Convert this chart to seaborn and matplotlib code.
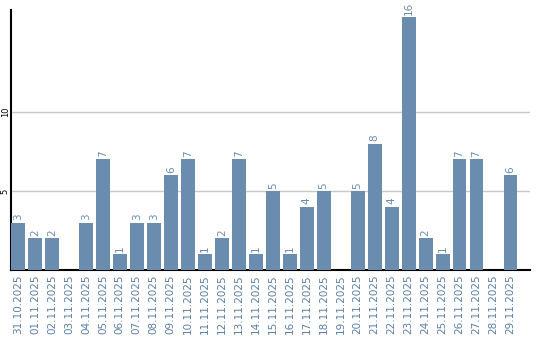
import matplotlib
matplotlib.use("Agg")
import matplotlib.pyplot as plt
import seaborn as sns
import pandas as pd

dates = ["31.10.2025", "01.11.2025", "02.11.2025", "03.11.2025", "04.11.2025",
         "05.11.2025", "06.11.2025", "07.11.2025", "08.11.2025", "09.11.2025",
         "10.11.2025", "11.11.2025", "12.11.2025", "13.11.2025", "14.11.2025",
         "15.11.2025", "16.11.2025", "17.11.2025", "18.11.2025", "19.11.2025",
         "20.11.2025", "21.11.2025", "22.11.2025", "23.11.2025", "24.11.2025",
         "25.11.2025", "26.11.2025", "27.11.2025", "28.11.2025", "29.11.2025"]
values = [3, 2, 2, 0, 3, 7, 1, 3, 3, 6, 7, 1, 2, 7, 1, 5, 1, 4, 5, 0,
          5, 8, 4, 16, 2, 1, 7, 7, 0, 6]
yticks = [5, 10]

sns.set_style("white")
plt.rcParams['font.family'] = ['DejaVu Sans']

df = pd.DataFrame({"date": dates, "value": values})

fig = plt.figure(figsize=(5.4, 3.4), dpi=100)
ax = fig.add_axes([11/540, 70/340, 519/540, 260/340])

bar_color = "#6a8caf"
text_color = "#6a8caf"
sns.barplot(data=df, x="date", y="value", color=bar_color, width=0.82,
            saturation=1, ax=ax, zorder=3, linewidth=0)

for i, v in enumerate(values):
    if v > 0:
        ax.text(i, v + 0.15, str(v), rotation=90, ha="center", va="bottom",
                fontsize=7.5, color=text_color)

ax.set_xlim(-0.41, 30.15)
ax.set_ylim(0, 16.45)
ax.set_yticks(yticks)
ax.set_yticklabels([str(t) for t in yticks], rotation=90, fontsize=6,
                   color="black", va="center")
ax.tick_params(axis="y", length=0, pad=1)
ax.tick_params(axis="x", length=0, pad=3)
ax.set_xticks(range(len(dates)))
ax.set_xticklabels(dates, rotation=90, fontsize=7.5, color="#5b7fa6")
ax.grid(axis="y", color="#c8c8c8", linewidth=1, zorder=0)
ax.set_axisbelow(True)
ax.set_xlabel("")
ax.set_ylabel("")
for s in ["top", "right"]:
    ax.spines[s].set_visible(False)
ax.spines["left"].set_color("black")
ax.spines["bottom"].set_color("black")
ax.spines["left"].set_linewidth(1.5)
ax.spines["bottom"].set_linewidth(1.5)

fig.savefig("out.png", dpi=100)
